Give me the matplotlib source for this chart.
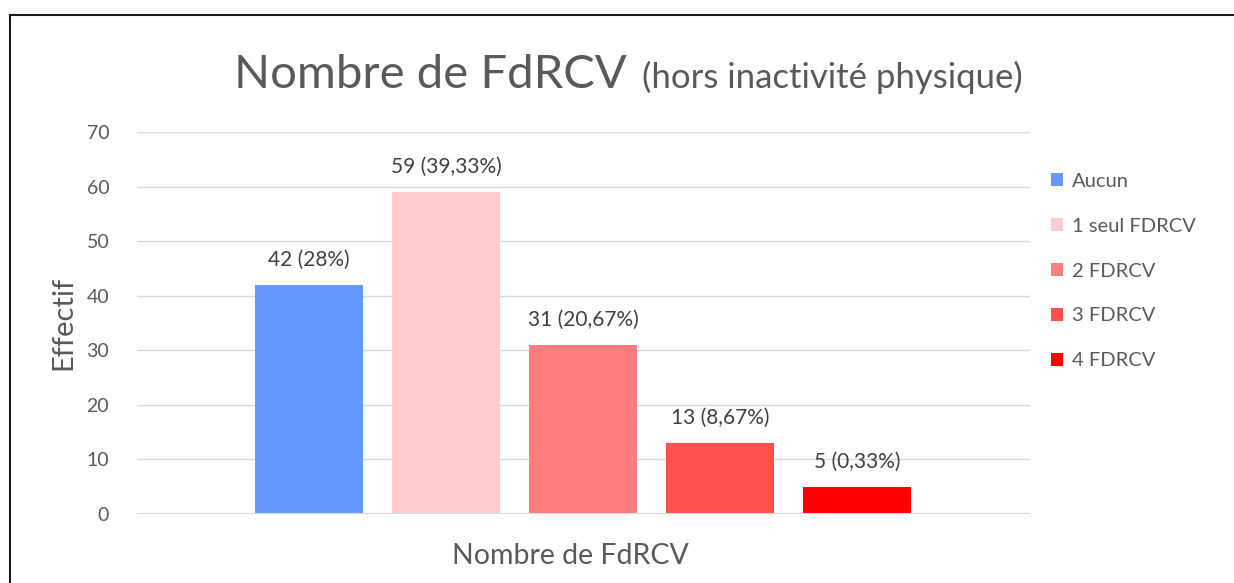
import matplotlib
matplotlib.use("Agg")
import matplotlib.pyplot as plt
from matplotlib.lines import Line2D
from matplotlib.patches import Patch

series = ["Aucun", "1 seul FDRCV", "2 FDRCV", "3 FDRCV", "4 FDRCV"]
values = [42, 59, 31, 13, 5]
percents = ["28%", "39,33%", "20,67%", "8,67%", "0,33%"]
colors = ["#6699FF", "#FFCCCC", "#FF7F7F", "#FF5050", "#FF0000"]
yticks = [0, 10, 20, 30, 40, 50, 60, 70]

plt.rcParams['font.family'] = ['Lato', 'DejaVu Sans']
txt = "#595959"

W, H = 1234, 583
fig = plt.figure(figsize=(W / 100, H / 100), dpi=100)
fig.patch.set_facecolor("white")

def fx(px):
    return px / W

def fy(py):
    return 1 - py / H

ax = fig.add_axes([fx(137), fy(514), fx(1030) - fx(137), fy(132) - fy(514)])
pos = list(range(len(values)))
bars = ax.bar(pos, values, width=0.79, color=colors, zorder=3)
ax.set_xlim(-1.255, 5.263)
ax.set_ylim(0, 70)
ax.set_yticks(yticks)
ax.set_yticklabels([str(t) for t in yticks], fontsize=14, color=txt)
ax.tick_params(axis='y', length=0, pad=20)
ax.set_xticks([])
for s in ax.spines.values():
    s.set_visible(False)
ax.grid(axis='y', color="#D9D9D9", linewidth=1.0, zorder=0)
ax.axhline(0, color="#D9D9D9", linewidth=2.2, zorder=4)

for p, v, pc in zip(pos, values, percents):
    ax.annotate(f"{v} ({pc})", (p, v), xytext=(0, 11), textcoords='offset points',
                ha='center', va='bottom', fontsize=15, color="#404040")

ax.set_ylabel("Effectif", fontsize=21, color=txt, labelpad=7)
fig.text(fx(570), fy(556), "Nombre de FdRCV", fontsize=20.5, color=txt, ha='center', va='center')

# Title
fig.text(fx(627), fy(88), "Nombre de FdRCV", fontsize=34, color=txt, ha='right', va='baseline')
fig.text(fx(642), fy(88), "(hors inactivité physique)", fontsize=25, color=txt, ha='left', va='baseline')

handles = [Patch(facecolor=c, edgecolor='none') for c in colors]
fig.legend(handles, series, loc='upper left', bbox_to_anchor=(fx(1051), fy(173)),
           frameon=False, fontsize=14.5, labelspacing=1.38, handlelength=0.62,
           handleheight=0.62, handletextpad=0.4, labelcolor=txt, borderaxespad=0,
           borderpad=0)

# chart frame
fig.add_artist(Line2D([fx(10), fx(1234)], [fy(15), fy(15)], color="#1a1a1a", linewidth=1.5))
fig.add_artist(Line2D([fx(10), fx(10)], [fy(15), fy(583)], color="#1a1a1a", linewidth=1.5))

fig.savefig("out.png", dpi=100)
